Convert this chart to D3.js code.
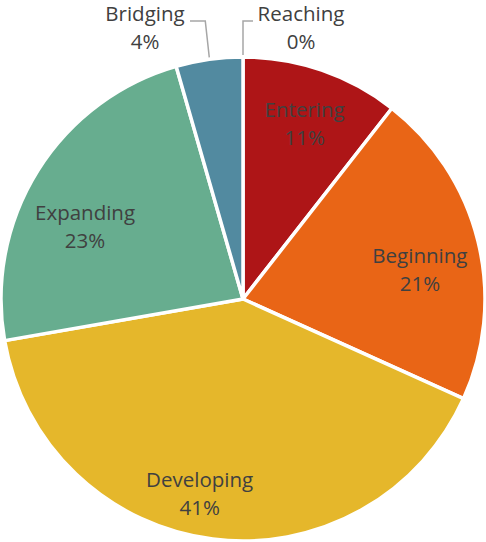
<!DOCTYPE html>
<html><head><meta charset="utf-8">
<script src="https://cdn.jsdelivr.net/npm/d3@7"></script>
<style>html,body{margin:0;padding:0;background:#fff;}</style>
</head><body>
<script>
const categories = ["Reaching","Entering","Beginning","Developing","Expanding","Bridging"];
const values = [0, 10.55, 21.2, 40.5, 23.3, 4.45];
const colors = ["#7F7F7F","#AE1517","#E96516","#E5B72B","#67AD8F","#528AA0"];

const W = 486, H = 542;
const cx = 243, cy = 299, R = 242;
const svg = d3.select("body").append("svg").attr("width", W).attr("height", H);
const g = svg.append("g").attr("transform", `translate(${cx},${cy})`);

const data = categories.map((c,i)=>({cat:c, value:values[i], color:colors[i]}));
const total = d3.sum(values);
const pie = d3.pie().value(d=>d.value).sort(null);
const arcs = pie(data);
const arc = d3.arc().innerRadius(0).outerRadius(R);

g.selectAll("path.slice").data(arcs).join("path")
  .attr("class","slice").attr("d", arc)
  .attr("fill", d=>d.data.color).attr("stroke","#fff").attr("stroke-width",3.5)
  .attr("stroke-linejoin","round");

const fmt = d3.format(".0%");
const font = "'Open Sans', sans-serif";
const fs = 20.5;

const labelArc = d3.arc().innerRadius(R*0.77).outerRadius(R*0.77);
const nudge = {Entering:[1,0], Beginning:[-4,15], Developing:[-20,9], Expanding:[0,26]};
const outside = {
  Reaching:{x:58, y:-278, lineX:10, lineY:-278, elbow:0},
  Bridging:{x:-98, y:-278, lineX:-53, lineY:-278, elbow:-4}
};

arcs.forEach(a=>{
  const name = a.data.cat;
  const pct = fmt(a.data.value/total);
  if (nudge[name]) {
    const c = labelArc.centroid(a);
    const x = c[0]+nudge[name][0], y = c[1]+nudge[name][1];
    const t = g.append("text").attr("text-anchor","middle").attr("font-family",font)
      .attr("font-size",fs).attr("fill","#404040");
    t.append("tspan").attr("x",x).attr("y",y-6).text(name);
    t.append("tspan").attr("x",x).attr("y",y+22).text(pct);
  } else {
    const o = outside[name];
    const ang = (a.startAngle+a.endAngle)/2;
    const px = Math.sin(ang)*R, py = -Math.cos(ang)*R;
    g.append("polyline")
      .attr("points", `${px},${py-2} ${px+o.elbow},${o.lineY} ${o.lineX},${o.lineY}`)
      .attr("fill","none").attr("stroke","#A6A6A6").attr("stroke-width",1.5);
    const t = g.append("text").attr("text-anchor","middle").attr("font-family",font)
      .attr("font-size",fs).attr("fill","#404040");
    t.append("tspan").attr("x",o.x).attr("y",o.y).text(name);
    t.append("tspan").attr("x",o.x).attr("y",o.y+28).text(pct);
  }
});
</script>
</body></html>
